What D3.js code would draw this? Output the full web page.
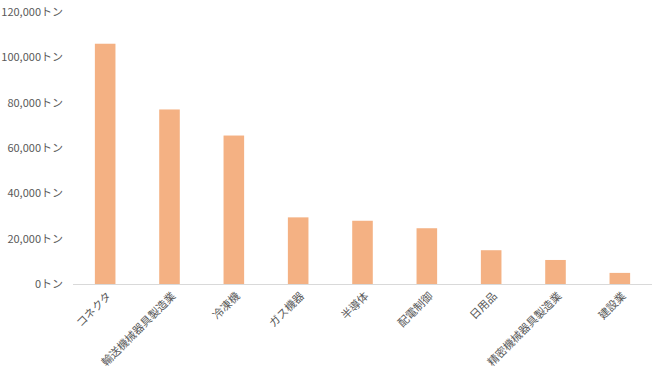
<!DOCTYPE html>
<html>
<head>
<meta charset="utf-8">
<script src="https://cdn.jsdelivr.net/npm/d3@7"></script>
<style>
  body { margin: 0; background: #fff; }
  text { font-family: "Noto Sans CJK JP", "Noto Sans", sans-serif; fill: #595959; }
</style>
</head>
<body>
<svg id="chart"></svg>
<script>
// industries and tonnage
const categories = ["コネクタ", "輸送機械器具製造業", "冷凍機", "ガス機器", "半導体", "配電制御", "日用品", "精密機械器具製造業", "建設業"]
const values = [106000, 77000, 65500, 29400, 27900, 24600, 14900, 10600, 4900]
const yTicks = [0, 20000, 40000, 60000, 80000, 100000, 120000]

const width = 660, height = 371
const margin = { top: 12, left: 73, right: 8, bottom: 87 }

const svg = d3.select("#chart").attr("width", width).attr("height", height)

const x = d3.scaleBand()
    .domain(categories)
    .range([margin.left, width - margin.right])
    .paddingInner(0.68)
    .paddingOuter(0.34)

const y = d3.scaleLinear()
    .domain([0, 120000])
    .range([height - margin.bottom, margin.top])

// bars
svg.append("g").selectAll("rect")
    .data(values)
    .enter().append("rect")
    .attr("x", (d, i) => x(categories[i]))
    .attr("y", d => y(d))
    .attr("width", x.bandwidth())
    .attr("height", d => y(0) - y(d))
    .attr("fill", "#F4B183")

// y axis labels only
const yAxis = svg.append("g")
    .attr("transform", "translate(" + (margin.left - 10) + ",0)")
    .call(d3.axisLeft(y).tickValues(yTicks).tickSize(0).tickPadding(0)
        .tickFormat(d => d3.format(",")(d) + "トン"))
yAxis.select(".domain").remove()
yAxis.selectAll("text").style("font-size", "11px").attr("fill", "#595959")

// baseline
svg.append("line")
    .attr("x1", margin.left).attr("x2", width - margin.right)
    .attr("y1", y(0) + 0.5).attr("y2", y(0) + 0.5)
    .attr("stroke", "#d9d9d9")

// x labels rotated
svg.append("g").selectAll("text")
    .data(categories)
    .enter().append("text")
    .attr("transform", d => "translate(" + (x(d) + x.bandwidth() / 2 + 4) + "," + (y(0) + 10) + ") rotate(-45)")
    .attr("text-anchor", "end")
    .attr("dy", "0.35em")
    .style("font-size", "11px")
    .text(d => d)
</script>
</body>
</html>
